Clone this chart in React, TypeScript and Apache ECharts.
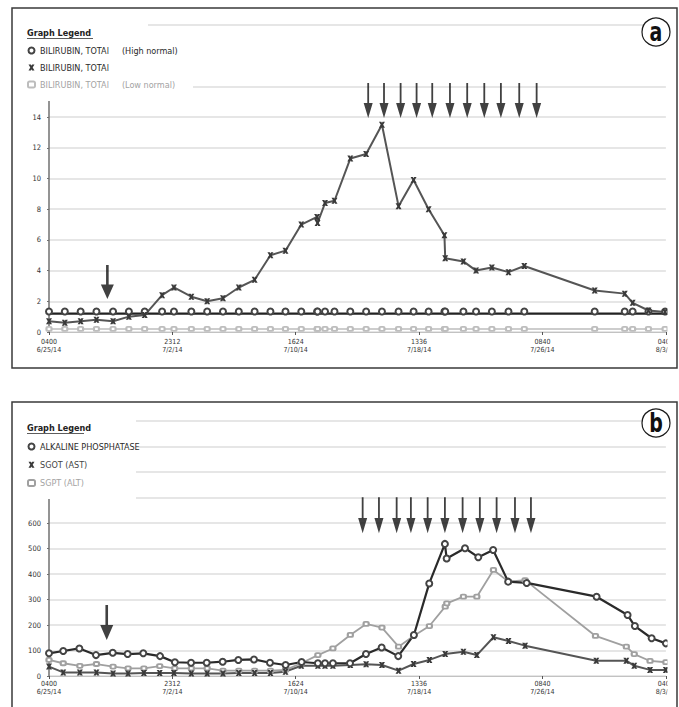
import React, { useEffect, useRef } from "react";
import * as echarts from "echarts";

// ---------- data ----------
const tickTimes = ["0400", "2312", "1624", "1336", "0840", "0400"];
const tickDates = ["6/25/14", "7/2/14", "7/10/14", "7/18/14", "7/26/14", "8/3/14"];
const tickStepDays = 7.8;
const axisMaxDays = 39;

// Panel (a): total bilirubin [day since 6/25 04:00, mg/dL]
const bilirubin: [number, number][] = [
  [0, 0.7], [1.0, 0.6], [2.0, 0.7], [3.0, 0.8], [4.05, 0.7], [5.05, 1.0], [6.05, 1.1],
  [7.15, 2.4], [7.9, 2.9], [9.0, 2.3], [10.0, 2.0], [11.0, 2.2], [12.0, 2.9], [13.0, 3.4],
  [14.0, 5.0], [14.95, 5.3], [15.95, 7.0], [16.95, 7.5], [16.98, 7.1], [17.45, 8.4],
  [18.05, 8.55], [19.05, 11.3], [20.05, 11.6], [21.05, 13.5], [22.1, 8.2], [23.05, 9.9],
  [24.0, 8.0], [25.0, 6.3], [25.05, 4.8], [26.2, 4.6], [27.0, 4.0], [28.0, 4.2],
  [29.05, 3.9], [30.05, 4.3], [34.5, 2.7], [36.4, 2.5], [36.9, 1.9], [37.9, 1.4], [38.95, 1.3],
];
const bilirubinHighNormal = 1.2;
const bilirubinLowNormal = 0.2;

// Panel (b): liver enzymes [day, U/L]
const alkPhos: [number, number][] = [
  [0, 89], [0.9, 98], [1.92, 108], [2.97, 82], [4.03, 91], [4.97, 86], [5.96, 89],
  [7.02, 78], [7.96, 54], [8.98, 52], [9.97, 52], [10.98, 56], [11.97, 63], [12.96, 65],
  [13.97, 52], [14.96, 43], [15.97, 55], [17.0, 50], [17.45, 50], [17.95, 50], [19.03, 50],
  [20.04, 86], [21.03, 112], [22.08, 78], [23.07, 161], [24.04, 363], [25.03, 518],
  [25.14, 461], [26.3, 501], [27.14, 466], [28.08, 494], [29.03, 370], [30.2, 365],
  [34.62, 311], [36.58, 239], [37.04, 196], [38.1, 148], [39.0, 128],
];
const sgot: [number, number][] = [
  [0, 37], [0.9, 14], [1.95, 14], [3.0, 14], [4.05, 10], [5.0, 10], [6.0, 12], [7.0, 12],
  [7.9, 12], [9.0, 10], [10.0, 10], [11.0, 10], [12.0, 12], [13.0, 12], [14.0, 12],
  [14.95, 17], [15.95, 40], [17.0, 40], [17.45, 40], [17.95, 40], [19.05, 43], [20.05, 46],
  [21.05, 43], [22.1, 21], [23.05, 47], [24.05, 63], [25.05, 86], [26.2, 95], [27.05, 82],
  [28.1, 152], [29.05, 137], [30.1, 119], [34.6, 60], [36.5, 60], [37.0, 40], [38.0, 24], [39.0, 24],
];
const sgpt: [number, number][] = [
  [0, 63], [0.9, 50], [1.95, 40], [3.0, 47], [4.05, 37], [5.0, 30], [6.0, 30], [7.0, 39],
  [7.95, 30], [9.0, 30], [10.0, 30], [11.0, 21], [12.0, 21], [13.0, 21], [14.0, 21],
  [14.95, 24], [15.95, 50], [17.0, 82], [17.95, 108], [19.05, 161], [20.05, 204], [21.05, 190],
  [22.1, 115], [23.05, 157], [24.05, 196], [25.05, 272], [25.15, 285], [26.2, 311], [27.05, 311],
  [28.1, 416], [29.05, 370], [30.1, 376], [34.55, 157], [36.5, 115], [37.0, 86], [38.0, 59], [39.0, 54],
];

// treatment / event arrows (days)
const treatmentDaysA = [20.18, 21.18, 22.23, 23.24, 24.23, 25.35, 26.44, 27.52, 28.57, 29.73, 30.83];
const treatmentDaysB = [19.83, 20.86, 21.98, 22.88, 23.94, 25.03, 26.15, 27.24, 28.3, 29.46, 30.47];
const eventDaysA = [3.69];
const eventDaysB = [3.65];

const NAME_HI = "BILIRUBIN, TOTAl (High normal)";
const NAME_BILI = "BILIRUBIN, TOTAl";
const NAME_LO = "BILIRUBIN, TOTAl (Low normal)";
const NAME_ALP = "ALKALINE PHOSPHATASE";
const NAME_AST = "SGOT (AST)";
const NAME_ALT = "SGPT (ALT)";

// ---------- styling ----------
const FONT = "'Liberation Sans Narrow', 'Arial Narrow', 'DejaVu Sans Condensed', 'Liberation Sans', sans-serif";
const xPath = "path://M0 0L4 0L5 2L6 0L10 0L7 5L10 10L6 10L5 8L4 10L0 10L3 5Z";
const arrowPath = "path://M4 0L6 0L6 20L10 20L5 35L0 20L4 20Z";

const makeXAxis = (gridIndex: number, margin: number) => ({
  type: "value",
  gridIndex,
  min: 0,
  max: axisMaxDays,
  interval: tickStepDays,
  axisLine: { show: true, lineStyle: { color: "#c2c2c2", width: 1.2 } },
  axisTick: { show: true, length: 3, lineStyle: { color: "#555", width: 1 } },
  axisLabel: {
    show: true,
    showMinLabel: true,
    showMaxLabel: true,
    margin,
    fontSize: 7,
    lineHeight: 8,
    color: "#333",
    fontFamily: FONT,
    formatter: (v: number) => {
      const i = Math.round(v / tickStepDays);
      return (tickTimes[i] ?? "") + "\n" + (tickDates[i] ?? "");
    },
  },
  splitLine: { show: false },
});

const makeYAxis = (gridIndex: number, max: number, interval: number, labelMax: number, hidden: number[]) => {
  const n = Math.round(max / interval) + 1;
  const colors = Array.from({ length: n }, (_, i) => (hidden.includes(i * interval) ? "rgba(0,0,0,0)" : "#dedede"));
  return {
    type: "value",
    gridIndex,
    min: 0,
    max,
    interval,
    axisLine: { show: true, lineStyle: { color: "#707070", width: 1.5 } },
    axisTick: { show: true, length: 2, lineStyle: { color: "#707070" } },
    axisLabel: {
      margin: 8,
      fontSize: 7.5,
      color: "#333",
      fontFamily: FONT,
      formatter: (v: number) => (v <= labelMax ? String(v) : ""),
    },
    splitLine: { show: true, lineStyle: { color: colors, width: 1.5 } },
  };
};

const legendFormatter = (name: string) => {
  const i = name.indexOf(" (");
  if (i < 0 || name.startsWith("SG")) return `{t|${name}}`;
  return `{t|${name.slice(0, i)}}{p|${name.slice(i + 1)}}`;
};

const makeLegend = (top: number, gap: number, items: any[]) => ({
  data: items,
  orient: "vertical",
  left: 27,
  top,
  padding: 0,
  itemWidth: 7,
  itemHeight: 6,
  itemGap: gap,
  selectedMode: false,
  z: 6,
  formatter: legendFormatter,
  textStyle: {
    fontSize: 9,
    color: "#2a2a2a",
    fontFamily: FONT,
    lineHeight: 11,
    rich: { t: {}, p: { padding: [0, 0, 0, 13] } },
  },
});

const lineSeries = (name: string, idx: number, data: any[], color: string, width: number, symbol: string, size: any, extra: any = {}) => ({
  type: "line",
  name,
  xAxisIndex: idx,
  yAxisIndex: idx,
  data,
  symbol,
  symbolSize: size,
  showAllSymbols: true,
  showSymbol: true,
  lineStyle: { color, width },
  itemStyle: { color, borderWidth: 1 },
  emphasis: { disabled: true },
  ...extra,
});

const arrowSeries = (name: string, idx: number, days: number[], y: number, size: number[]) => ({
  type: "scatter",
  name,
  xAxisIndex: idx,
  yAxisIndex: idx,
  data: days.map((d) => [d, y]),
  symbol: arrowPath,
  symbolSize: size,
  itemStyle: { color: "#111" },
  clip: false,
  silent: true,
  z: 5,
});

const biliDays = bilirubin.map((p) => p[0]);

const letter = (ch: string, cx: number, cy: number) => ({
  type: "group",
  x: cx,
  y: cy,
  z: 12,
  children: [
    { type: "circle", z: 12, shape: { cx: 0, cy: 0, r: 14 }, style: { fill: "#fff", stroke: "#1a1a1a", lineWidth: 1.2 } },
    {
      type: "text",
      z: 13,
      x: 0,
      y: 0,
      scaleX: 0.78,
      style: { text: ch, fontSize: 27, fontWeight: "bold", fontFamily: FONT, fill: "#111", align: "center", verticalAlign: "middle" },
    },
  ],
});

const option: any = {
  animation: false,
  backgroundColor: "#ffffff",
  grid: [
    { left: 49, right: 12, top: 25, bottom: 375 },
    { left: 49, right: 12, top: 421, bottom: 31 },
  ],
  xAxis: [makeXAxis(0, 6), makeXAxis(1, 4)],
  yAxis: [makeYAxis(0, 20, 2, 14, [18]), makeYAxis(1, 1000, 100, 600, [])],
  legend: [
    makeLegend(45, 6, [
      { name: NAME_HI, icon: "emptyCircle" },
      { name: NAME_BILI, icon: xPath },
      { name: NAME_LO, icon: "emptyRoundRect", textStyle: { color: "#a3a3a3" } },
    ]),
    makeLegend(441, 7.3, [
      { name: NAME_ALP, icon: "emptyCircle" },
      { name: NAME_AST, icon: xPath, textStyle: { color: "#444" } },
      { name: NAME_ALT, icon: "emptyRoundRect", textStyle: { color: "#a3a3a3" } },
    ]),
  ],
  series: [
    lineSeries(NAME_LO, 0, biliDays.map((d) => [d, bilirubinLowNormal]), "#bdbdbd", 1.5, "emptyRoundRect", [5, 4]),
    lineSeries(NAME_HI, 0, biliDays.map((d) => [d, bilirubinHighNormal]), "#222", 2.4, "emptyCircle", 6, { symbolOffset: [0, -2], itemStyle: { color: "#444", borderWidth: 1 } }),
    lineSeries(NAME_BILI, 0, bilirubin, "#555", 2, xPath, 6, { itemStyle: { color: "#3a3a3a" } }),
    arrowSeries("treatment a", 0, treatmentDaysA, 15.08, [9, 35]),
    arrowSeries("event a", 0, eventDaysA, 3.26, [13, 34]),

    lineSeries(NAME_ALT, 1, sgpt, "#a0a0a0", 1.8, "emptyRoundRect", [5, 4]),
    lineSeries(NAME_AST, 1, sgot, "#555", 2, xPath, 6, { itemStyle: { color: "#3a3a3a" } }),
    lineSeries(NAME_ALP, 1, alkPhos, "#2a2a2a", 2.2, "emptyCircle", 6, { itemStyle: { color: "#444", borderWidth: 1 } }),
    arrowSeries("treatment b", 1, treatmentDaysB, 630, [9, 36]),
    arrowSeries("event b", 1, eventDaysB, 210, [13, 35]),
  ],
  graphic: [
    // legend backgrounds
    { type: "rect", z: 3, shape: { x: 13, y: 9, width: 135, height: 92 }, style: { fill: "#fff" } },
    { type: "rect", z: 3, shape: { x: 148, y: 79, width: 45, height: 13 }, style: { fill: "#fff" } },
    { type: "rect", z: 3, shape: { x: 13, y: 403, width: 123, height: 96 }, style: { fill: "#fff" } },
    // legend titles
    { type: "text", z: 7, x: 27, y: 33, style: { text: "Graph Legend", fontSize: 9, fontWeight: "bold", fontFamily: FONT, fill: "#222", verticalAlign: "middle" } },
    { type: "line", z: 7, shape: { x1: 27, y1: 38.5, x2: 93, y2: 38.5 }, style: { stroke: "#333", lineWidth: 0.8 } },
    { type: "text", z: 7, x: 27, y: 428, style: { text: "Graph Legend", fontSize: 9, fontWeight: "bold", fontFamily: FONT, fill: "#222", verticalAlign: "middle" } },
    { type: "line", z: 7, shape: { x1: 27, y1: 433.5, x2: 84, y2: 433.5 }, style: { stroke: "#333", lineWidth: 0.8 } },
    // right-side clipping
    { type: "rect", z: 10, shape: { x: 667.5, y: 9, width: 9, height: 358 }, style: { fill: "#fff" } },
    { type: "rect", z: 10, shape: { x: 667.5, y: 403, width: 9, height: 304 }, style: { fill: "#fff" } },
    // panel frames
    { type: "rect", z: 11, shape: { x: 12, y: 8, width: 665, height: 360 }, style: { fill: "none", stroke: "#3a3a3a", lineWidth: 1.5 } },
    { type: "rect", z: 11, shape: { x: 12, y: 402, width: 665, height: 330 }, style: { fill: "none", stroke: "#3a3a3a", lineWidth: 1.5 } },
    // panel letters
    letter("a", 656, 32),
    letter("b", 656, 423),
  ],
};

export default function App() {
  const ref = useRef<HTMLDivElement>(null);
  useEffect(() => {
    if (!ref.current) return;
    const chart = echarts.init(ref.current, undefined, { renderer: "svg", width: 679, height: 707 });
    chart.setOption(option);
    return () => chart.dispose();
  }, []);
  return (
    <div
      ref={ref}
      style={{ position: "absolute", left: 0, top: 0, width: 679, height: 707, background: "#fff" }}
    />
  );
}
